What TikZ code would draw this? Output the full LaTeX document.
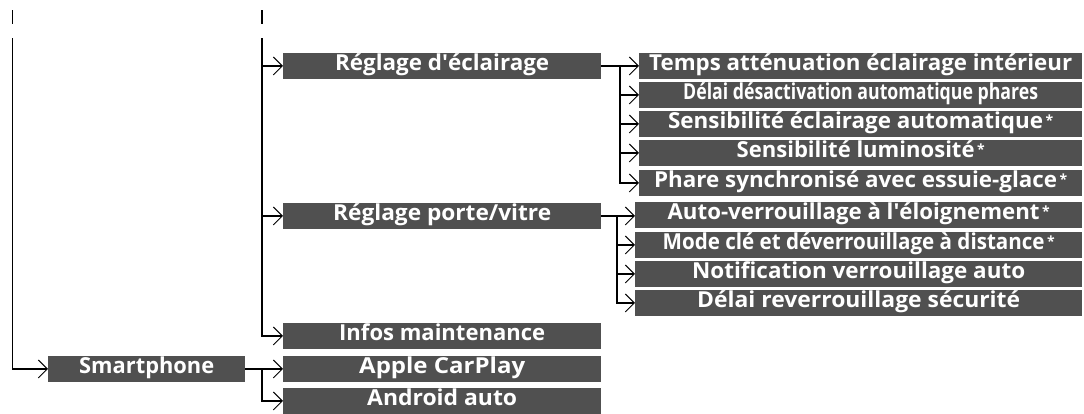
\documentclass[tikz,border=0pt]{standalone}
\usepackage{fontspec}
\setmainfont{Open Sans}
\usepackage{graphicx}
\usetikzlibrary{arrows.meta}
\definecolor{boxgray}{RGB}{80,80,80}
\newcommand{\fw}[2]{\resizebox{#1bp}{\height}{#2}}
\newcommand{\mystar}{\hspace{2.5bp}\raisebox{3.5bp}{\fontsize{14bp}{14bp}\selectfont *}}
\newcommand{\q}{\textquotesingle}
\begin{document}
\begin{tikzpicture}[x=1bp,y=-1bp,
  box/.style={fill=boxgray, text=white, anchor=north west, inner xsep=0pt, inner ysep=0pt,
    text height=17.5bp, text depth=8bp, font=\fontsize{22bp}{24bp}\selectfont\bfseries},
  conn/.style={line width=1.8bp, black},
  arr/.style={conn, -{Straight Barb[length=9bp,width=18bp,line width=1bp]}}]
\useasboundingbox (0,0) rectangle (1084,413);
% right column, group 1
\node[box, minimum width=443bp] (temps) at (639,53) {\fw{423}{Temps atténuation éclairage intérieur}};
\node[box, minimum width=443bp] (delai) at (639,82) {\fw{355}{Délai désactivation automatique phares}};
\node[box, minimum width=443bp] (sensauto) at (639,111) {\fw{375}{Sensibilité éclairage automatique}\mystar};
\node[box, minimum width=443bp] (senslum) at (639,140) {\fw{238}{Sensibilité luminosité}\mystar};
\node[box, minimum width=443bp] (phare) at (639,170) {\fw{403}{Phare synchronisé avec essuie-glace}\mystar};
% right column, group 2
\node[box, minimum width=447bp] (autov) at (635,202) {\fw{372}{Auto-verrouillage à l\q éloignement}\mystar};
\node[box, minimum width=447bp] (mode) at (635,232) {\fw{382}{Mode clé et déverrouillage à distance}\mystar};
\node[box, minimum width=447bp] (notif) at (635,261) {\fw{333}{Notification verrouillage auto}};
\node[box, minimum width=447bp] (delairev) at (635,290) {\fw{323}{Délai reverrouillage sécurité}};
% middle column
\node[box, minimum width=318bp] (rde) at (283,53) {\fw{214}{Réglage d\q éclairage}};
\node[box, minimum width=318bp] (rpv) at (283,203) {\fw{218}{Réglage porte/vitre}};
\node[box, minimum width=318bp] (infos) at (283,323) {\fw{206}{Infos maintenance}};
\node[box, minimum width=318bp] (apple) at (283,356) {\fw{166}{Apple CarPlay}};
\node[box, minimum width=318bp] (android) at (283,388) {\fw{150}{Android auto}};
% left
\node[box, minimum width=197bp] (smart) at (48,356) {\fw{135}{Smartphone}};
% trunk lines
\coordinate (t1a) at (12.5,10);
\coordinate (t1b) at (12.5,24);
\coordinate (l1top) at (12.5,38);
\coordinate (t2a) at (262,10);
\coordinate (t2b) at (262,24);
\coordinate (l2top) at (262,38);
\coordinate (j1) at (620,0);
\coordinate (j2) at (617,0);
\draw[conn] (t1a) -- (t1b);
\draw[conn] (t2a) -- (t2b);
\draw[arr] (l1top) |- (smart.west);
\draw[arr] (l2top) |- (infos.west);
\draw[arr] (l2top |- rde.west) -- (rde.west);
\draw[arr] (l2top |- rpv.west) -- (rpv.west);
% smartphone branch
\draw[arr] (smart.east) -- (apple.west);
\draw[arr] (smart.east -| l2top) |- (android.west);
% group 1
\draw[arr] (rde.east) -- (rde.east -| temps.west);
\draw[arr] (rde.east -| j1) |- (delai.west);
\draw[arr] (rde.east -| j1) |- (sensauto.west);
\draw[arr] (rde.east -| j1) |- (senslum.west);
\draw[arr] (rde.east -| j1) |- (phare.west);
% group 2
\draw[arr] (rpv.east) -- (rpv.east -| autov.west);
\draw[arr] (rpv.east -| j2) |- (mode.west);
\draw[arr] (rpv.east -| j2) |- (notif.west);
\draw[arr] (rpv.east -| j2) |- (delairev.west);
\end{tikzpicture}
\end{document}
